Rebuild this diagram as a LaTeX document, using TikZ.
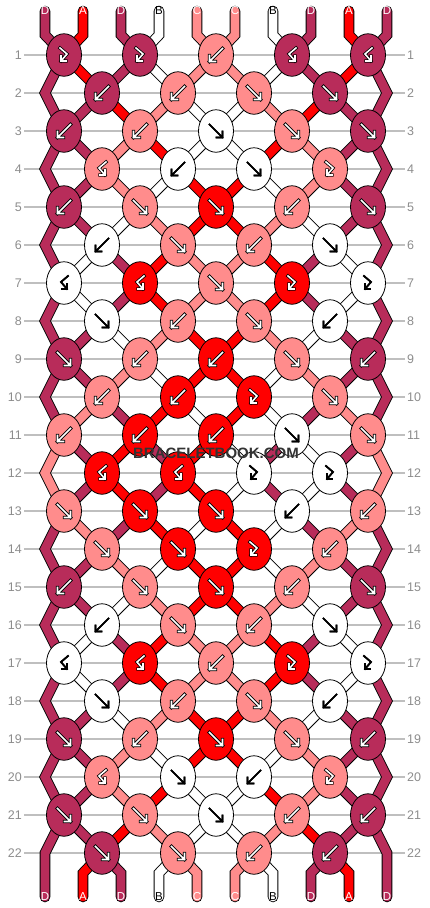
\documentclass[tikz,border=0pt]{standalone}
\usepackage{fontspec}
\setmainfont{Liberation Sans}
\usetikzlibrary{shapes.geometric}
\tikzset{>=stealth}

\definecolor{strA}{RGB}{255,0,0}
\definecolor{strB}{RGB}{255,255,255}
\definecolor{strC}{RGB}{255,140,140}
\definecolor{strD}{RGB}{184,44,90}
\colorlet{txtA}{white}
\colorlet{txtB}{black}
\colorlet{txtC}{white}
\colorlet{txtD}{white}

\pgfdeclarelayer{grid}
\pgfdeclarelayer{strands}
\pgfsetlayers{grid,strands,main}

\tikzset{
  rowline/.style={draw=black!25, line width=1.2pt},
  rownum/.style={text=black!45, font=\fontsize{12.5}{14}\selectfont, inner sep=2pt},
  tubelabel/.style={text=txt#1, font=\fontsize{11.5}{13}\selectfont, inner sep=0pt},
  strandedge/.style={draw=black, line width=10.6pt, line cap=round, line join=miter},
  strandcore/.style={draw=str#1, line width=8.8pt, line cap=round, line join=miter},
  knot/.style={ellipse, draw=black, line width=0.8pt, fill=str#1, minimum width=35pt, minimum height=42.5pt, inner sep=0pt},
  arrowrim/.style={draw=black, line width=3.2pt, line cap=rect, line join=miter},
  arrowcore/.style={draw=white, line width=1.6pt, line cap=rect, line join=miter},
  arrowplain/.style={draw=black, line width=1.7pt, line cap=rect, line join=miter},
  edgeA/.style=arrowrim, edgeC/.style=arrowrim, edgeD/.style=arrowrim, edgeB/.style=arrowplain,
  coreA/.style=arrowcore, coreC/.style=arrowcore, coreD/.style=arrowcore, coreB/.style=arrowplain,
  wmark/.style={text=black!80, font=\bfseries\fontsize{15}{17}\selectfont, inner sep=1pt},
  pics/tf/.style={code={\draw[#1] (-6.5,-6.5) -- (6.5,6.5) (0.5,6.5) -- (6.5,6.5) -- (6.5,0.5);}},
  pics/tb/.style={code={\draw[#1] (6.5,-6.5) -- (-6.5,6.5) (-0.5,6.5) -- (-6.5,6.5) -- (-6.5,0.5);}},
  pics/tfb/.style={code={\draw[#1] (-4,-7) -- (3,-1) -- (-3,6) (-3,1) -- (-3,6) -- (2,6);}},
  pics/tbf/.style={code={\draw[#1] (4,-7) -- (-3,-1) -- (3,6) (3,1) -- (3,6) -- (-2,6);}}
}

% knots per row: colour / kind
\newcommand{\knotrows}{%
 1/{D/fb,D/fb,C/b,D/bf,D/bf},
 2/{D/b,C/b,C/f,D/f},
 3/{D/b,C/b,B/f,C/f,D/f},
 4/{C/bf,B/b,B/f,C/fb},
 5/{D/b,C/f,A/f,C/b,D/f},
 6/{B/b,C/f,C/b,B/f},
 7/{B/bf,A/bf,C/f,A/fb,B/fb},
 8/{B/f,C/b,C/f,B/b},
 9/{D/f,C/b,A/b,C/f,D/b},
 10/{C/b,A/b,A/fb,C/f},
 11/{C/b,A/b,A/b,B/f,C/f},
 12/{A/bf,A/bf,B/fb,B/fb},
 13/{C/f,A/f,A/f,B/b,C/b},
 14/{C/f,A/f,A/fb,C/b},
 15/{D/b,C/f,A/f,C/b,D/f},
 16/{B/b,C/f,C/b,B/f},
 17/{B/bf,A/bf,C/b,A/fb,B/fb},
 18/{B/f,C/b,C/f,B/b},
 19/{D/f,C/b,A/f,C/f,D/b},
 20/{C/bf,B/f,B/b,C/fb},
 21/{D/f,C/f,B/f,C/b,D/b},
 22/{D/f,C/f,C/b,D/b}}

% string colours below each row
\newcommand{\rowstates}{%
 1/{D,A,D,B,C,C,B,D,A,D},
 2/{D,D,A,C,B,B,C,A,D,D},
 3/{D,D,C,A,B,B,A,C,D,D},
 4/{D,D,C,B,A,A,B,C,D,D},
 5/{D,D,B,C,A,A,C,B,D,D},
 6/{D,B,D,A,C,C,A,D,B,D},
 7/{D,B,D,A,C,C,A,D,B,D},
 8/{D,D,B,C,A,A,C,B,D,D},
 9/{D,D,C,B,A,A,B,C,D,D},
 10/{D,C,D,A,B,A,B,D,C,D},
 11/{C,D,A,D,A,B,D,B,D,C},
 12/{C,D,A,D,A,B,D,B,D,C},
 13/{D,C,D,A,B,A,B,D,C,D},
 14/{D,D,C,B,A,A,B,C,D,D},
 15/{D,D,B,C,A,A,C,B,D,D},
 16/{D,B,D,A,C,C,A,D,B,D},
 17/{D,B,D,A,C,C,A,D,B,D},
 18/{D,D,B,C,A,A,C,B,D,D},
 19/{D,D,C,B,A,A,B,C,D,D},
 20/{D,D,C,A,B,B,A,C,D,D},
 21/{D,D,A,C,B,B,C,A,D,D}}

\newcommand{\strandpass}[1]{%
  \foreach \row/\rowcols in \rowstates {%
    \pgfmathtruncatemacro\rn{\row+1}%
    \pgfmathtruncatemacro\rnn{\row+2}%
    \pgfmathtruncatemacro\oddrow{mod(\row,2)}%
    \foreach \col [count=\pos] in \rowcols {%
      \pgfmathtruncatemacro\isrim{(\pos==1)||(\pos==10)}%
      \ifnum\isrim=0
        \draw[#1=\col] (p\row-\pos) -- (p\rn-\pos);
      \else\ifnum\oddrow=1
        \draw[#1=\col] (p\row-\pos) -- (p\rn-\pos) -- (p\rnn-\pos);
      \fi\fi
    }%
  }%
  \foreach \col [count=\pos] in {D,A,D,B,C,C,B,D,A,D} {%
    \draw[#1=\col] (lt-\pos.center) -- ++(0,24) -- (p1-\pos);
    \pgfmathtruncatemacro\isrim{(\pos==1)||(\pos==10)}%
    \ifnum\isrim=0
      \draw[#1=\col] (lb-\pos.center) -- ++(0,-24) -- (p22-\pos);
    \fi
  }%
}

\begin{document}
\begin{tikzpicture}[x=1pt, y=-1pt]
    \useasboundingbox (0,0) rectangle (430,908);

    % row numbers and guide lines
    \begin{pgfonlayer}{grid}
    \foreach \row in {1,...,22} {
        \pgfmathsetmacro\ky{55+38*(\row-1)}
        \node[rownum, anchor=east] (ll\row) at (24,\ky) {\row};
        \node[rownum, anchor=west] (lr\row) at (405,\ky) {\row};
        \draw[rowline] (ll\row.east) -- (lr\row.west);
    }
    \end{pgfonlayer}

    % string ends with their letters
    \foreach \col [count=\pos] in {D,A,D,B,C,C,B,D,A,D} {
        \pgfmathsetmacro\sx{45+38*(\pos-1)}
        \node[tubelabel=\col] (lt-\pos) at (\sx,11) {\col};
        \node[tubelabel=\col] (lb-\pos) at (\sx,897) {\col};
    }
    \coordinate (p23-1) at (lb-1.center);
    \coordinate (p23-10) at (lb-10.center);

    % bends of the outer strings
    \foreach \row in {2,4,...,22} {
        \pgfmathsetmacro\ky{55+38*(\row-1)}
        \coordinate (p\row-1) at (45,\ky);
        \coordinate (p\row-10) at (387,\ky);
    }

    % knots
    \foreach \row/\ks in \knotrows {
        \pgfmathsetmacro\ky{55+38*(\row-1)}
        \foreach \col/\kind [count=\j] in \ks {
            \pgfmathsetmacro\kx{64+38*mod(\row+1,2)+76*(\j-1)}
            \pgfmathtruncatemacro\pl{2*\j-mod(\row,2)}
            \pgfmathtruncatemacro\pr{\pl+1}
            \node[knot=\col] (k\row-\j) at (\kx,\ky) {};
            \coordinate (p\row-\pl) at (k\row-\j.center);
            \coordinate (p\row-\pr) at (k\row-\j.center);
            \pic at (k\row-\j) {t\kind=edge\col};
            \pic at (k\row-\j) {t\kind=core\col};
        }
    }

    \begin{pgfonlayer}{strands}
    \strandpass{strandedge}
    \strandpass{strandcore}
    \end{pgfonlayer}

    \node[wmark] (wm) at (216,453) {BRACELETBOOK.COM};
\end{tikzpicture}
\end{document}
